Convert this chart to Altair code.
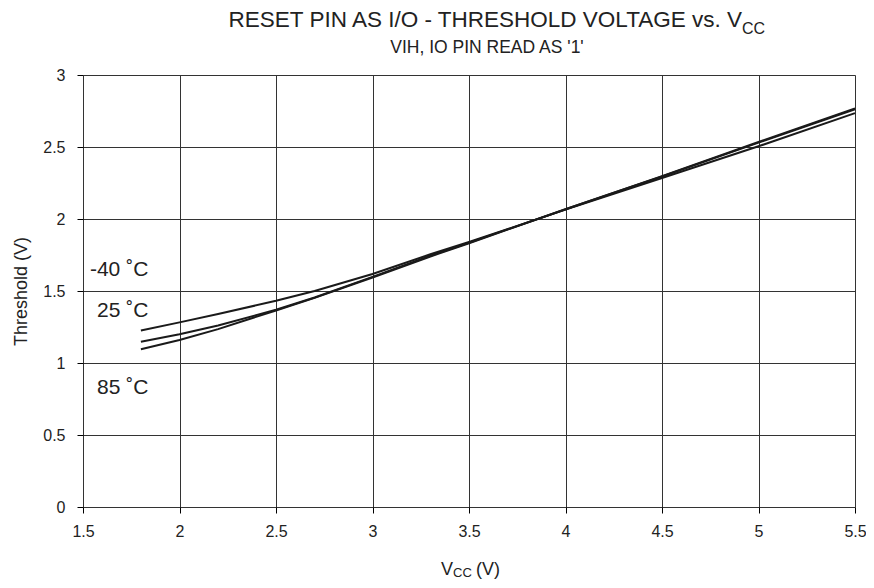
import altair as alt
import pandas as pd

vcc = [1.8, 2.0, 2.2, 2.5, 2.7, 3.0, 3.3, 3.5, 4.0, 4.5, 5.0, 5.5]
m40 = [1.225, 1.282, 1.34, 1.432, 1.50, 1.618, 1.755, 1.84, 2.065, 2.285, 2.505, 2.735]
p25 = [1.148, 1.20, 1.26, 1.37, 1.455, 1.598, 1.745, 1.835, 2.068, 2.295, 2.53, 2.762]
p85 = [1.095, 1.16, 1.235, 1.365, 1.452, 1.594, 1.74, 1.832, 2.068, 2.298, 2.535, 2.768]

series_names = ["-40 ˚C", "25 ˚C", "85 ˚C"]
label_x = [1.536, 1.573, 1.573]
label_y = [1.646, 1.358, 0.823]

x_ticks = [1.5, 2, 2.5, 3, 3.5, 4, 4.5, 5, 5.5]
y_ticks = [0, 0.5, 1, 1.5, 2, 2.5, 3]

rows = []
for name, vals in zip(series_names, [m40, p25, p85]):
    for x, y in zip(vcc, vals):
        rows.append({"vcc": x, "th": y, "temp": name})
df = pd.DataFrame(rows)
lab = pd.DataFrame({"vcc": label_x, "th": label_y, "text": series_names})

FONT = "Liberation Sans"
W, H = 772, 432

xs = alt.Scale(domain=[1.5, 5.5], nice=False, zero=False)
ys = alt.Scale(domain=[0, 3], nice=False)

lines = alt.Chart(df).mark_line(color="#1a1a1a", strokeWidth=2).encode(
    x=alt.X("vcc:Q", scale=xs,
            axis=alt.Axis(values=x_ticks, format="~g", title=None, grid=True, gridColor="#333333",
                          gridWidth=1, domain=False, tickColor="#000000", tickSize=6,
                          labelFont=FONT, labelFontSize=16, labelColor="#222222",
                          labelPadding=10, labelFlush=False)),
    y=alt.Y("th:Q", scale=ys,
            axis=alt.Axis(values=y_ticks, format="~g", title="Threshold (V)", grid=True,
                          gridColor="#333333", gridWidth=1, domain=False,
                          tickColor="#000000", tickSize=6,
                          labelFont=FONT, labelFontSize=16, labelColor="#222222",
                          labelPadding=12, titleFont=FONT, titleFontSize=18,
                          titleFontWeight="normal", titleColor="#222222", titlePadding=12)),
    detail="temp:N",
)

labels = alt.Chart(lab).mark_text(align="left", baseline="middle", font=FONT,
                                  fontSize=21, color="#222222").encode(
    x="vcc:Q", y="th:Q", text="text:N")

def txt(s, x, y, size, align="left", baseline="alphabetic"):
    return alt.Chart(pd.DataFrame({"t": [s]})).mark_text(
        align=align, baseline=baseline, font=FONT, fontSize=size, color="#222222"
    ).encode(x=alt.value(x), y=alt.value(y), text="t:N")

title1 = txt("RESET PIN AS I/O - THRESHOLD VOLTAGE vs. V", 659, -48, 22.5, align="right")
title1b = txt("CC", 659, -41, 16)
title2 = txt("VIH, IO PIN READ AS '1'", 404, -22, 17.5, align="center")
xt1 = txt("V", 370, 500, 18, align="right")
xt2 = txt("CC", 370, 502, 13)
xt3 = txt("(V)", 417, 500, 18, align="right")

chart = alt.layer(lines, labels, title1, title1b, title2, xt1, xt2, xt3).properties(
    width=W, height=H,
    autosize=alt.AutoSizeParams(type="none"),
    padding={"left": 75, "top": 67, "right": 11, "bottom": 73},
).configure_view(stroke="#85888c", strokeWidth=2.5).configure(background="white")

chart.save("out.html", embed_options={"renderer": "svg", "actions": False})
